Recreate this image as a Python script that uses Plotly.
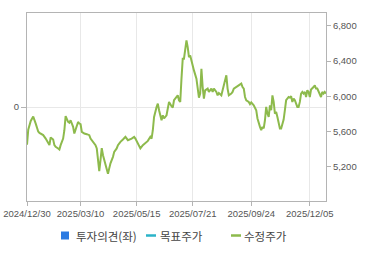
import plotly.graph_objects as go

# ---- data ----
tick_labels = ["2024/12/30", "2025/03/10", "2025/05/15", "2025/07/21", "2025/09/24", "2025/12/05"]
tick_days = [0, 43, 88, 133, 180, 227]

price_days = [0, 1, 3, 5, 7, 9, 10, 13, 15, 17, 18, 19, 21, 22, 23, 25, 26, 27, 29, 30,
              31, 33, 34, 35, 37, 38, 39, 41, 42, 43, 44, 46, 48, 50, 51, 53, 55, 56, 57, 58,
              59, 60, 61, 63, 64, 65, 66, 67, 69, 70, 72, 73, 75, 76, 77, 79, 80, 81, 84, 86,
              87, 89, 91, 93, 95, 97, 99, 100, 101, 102, 104, 105, 106, 108, 109, 110, 112, 113, 114, 116,
              117, 118, 120, 121, 122, 123, 124, 125, 126, 128, 129, 130, 131, 133, 134, 136, 137, 138, 139, 140,
              141, 142, 143, 145, 146, 148, 149, 150, 152, 153, 154, 156, 157, 158, 160, 161, 162, 164, 165, 166,
              168, 169, 170, 172, 173, 174, 175, 176, 178, 179, 180, 182, 184, 185, 187, 188, 189, 190, 191, 192,
              193, 194, 195, 196, 197, 198, 199, 200, 201, 202, 203, 204, 205, 206, 207, 208, 210, 211, 212, 213,
              214, 215, 216, 217, 218, 219, 220, 221, 222, 223, 224, 225, 226, 227, 228, 229, 230, 231, 232, 233,
              234, 235, 236, 237, 238, 239, 240]
price_values = [5450, 5620, 5720, 5770, 5690, 5600, 5585, 5560, 5520, 5465, 5446, 5533, 5510, 5446, 5426, 5408, 5397, 5446, 5520, 5615,
                5774, 5709, 5700, 5728, 5653, 5578, 5615, 5709, 5691, 5683, 5596, 5578, 5570, 5559, 5520, 5483, 5446, 5408, 5295, 5151,
                5276, 5412, 5332, 5219, 5163, 5120, 5182, 5239, 5313, 5370, 5408, 5446, 5483, 5502, 5510, 5540, 5520, 5502, 5520, 5540,
                5520, 5465, 5408, 5446, 5465, 5494, 5540, 5520, 5615, 5766, 5879, 5917, 5842, 5728, 5785, 5748, 5785, 5861, 5936, 5887,
                5872, 5955, 5985, 6011, 5955, 5936, 6200, 6427, 6427, 6634, 6558, 6445, 6464, 6370, 6294, 6200, 6068, 5985, 6031, 6313,
                6105, 5974, 6068, 6087, 6049, 6087, 6049, 6087, 6049, 6011, 6037, 6011, 6068, 6124, 6238, 6087, 6011, 6031, 6049, 6087,
                6105, 6113, 6124, 6144, 6105, 6087, 5992, 5955, 5936, 5910, 5930, 5898, 5842, 5748, 5653, 5615, 5653, 5635, 5728, 5879,
                5804, 5766, 5898, 5842, 6011, 5936, 5804, 5822, 5766, 5709, 5635, 5635, 5691, 5736, 5842, 5955, 5992, 5985, 6000, 5936,
                5974, 5955, 5917, 5879, 5879, 5936, 6031, 6049, 6031, 6049, 5992, 6068, 6049, 5992, 6076, 6087, 6105, 6124, 6087, 6087,
                6049, 6031, 5992, 6049, 6031, 6049, 6031]

price_ticks = [5200, 5600, 6000, 6400, 6800]
price_range = [4812, 6945]

legend_names = ["투자의견(좌)", "목표주가", "수정주가"]
legend_colors = ["#2a7ae2", "#2bb3c8", "#8dba4c"]

# ---- figure ----
W, H = 370, 255
L, R, T, B = 27, 44, 13, 54
font_fam = "Liberation Sans, Arial, Noto Sans CJK KR, sans-serif"
axis_col = "#b4b4b4"
grid_col = "#e8e8e8"
txt_col = "#555555"

fig = go.Figure()
fig.add_trace(go.Bar(x=[], y=[], name=legend_names[0], marker_color=legend_colors[0],
                     yaxis="y", showlegend=False))
fig.add_trace(go.Scatter(x=[], y=[], name=legend_names[1], mode="lines",
                         line=dict(color=legend_colors[1], width=2), yaxis="y2", showlegend=False))
fig.add_trace(go.Scatter(x=price_days, y=price_values, name=legend_names[2], mode="lines",
                         line=dict(color=legend_colors[2], width=2), yaxis="y2",
                         showlegend=False, hoverinfo="skip"))

fig.update_layout(
    width=W, height=H,
    margin=dict(l=L, r=R, t=T, b=B, pad=0, autoexpand=False),
    paper_bgcolor="white", plot_bgcolor="white",
    font=dict(family=font_fam, size=10, color=txt_col),
    showlegend=False,
    xaxis=dict(range=[0, 240], tickmode="array", tickvals=tick_days, ticktext=tick_labels,
               showgrid=True, gridcolor=grid_col, gridwidth=1, automargin=False,
               showline=True, linecolor=axis_col, linewidth=1, mirror=True,
               ticks="outside", ticklen=4, tickcolor=axis_col,
               tickfont=dict(size=9.5, color=txt_col), zeroline=False),
    yaxis=dict(range=[-1, 1], tickmode="array", tickvals=[0], ticktext=["0"],
               showgrid=True, gridcolor=grid_col, zeroline=False, automargin=False,
               showline=True, linecolor=axis_col, linewidth=1, mirror=True,
               ticks="outside", ticklen=5, tickcolor=axis_col,
               tickfont=dict(size=9.5, color=txt_col)),
    yaxis2=dict(range=price_range, overlaying="y", side="right", automargin=False,
                tickmode="array", tickvals=price_ticks, tickformat=",",
                showgrid=False, zeroline=False, showline=True, linecolor=axis_col,
                ticks="outside", ticklen=4, tickcolor=axis_col,
                tickfont=dict(size=9.5, color=txt_col)),
)

# ---- manual legend (pixel positions converted to paper coords) ----
pw, ph = W - L - R, H - T - B
def px(x):
    return (x - L) / pw
def py(y):
    return (H - B - y) / ph

ly = 235.5
fig.add_shape(type="rect", xref="paper", yref="paper",
              x0=px(61), x1=px(69), y0=py(239.5), y1=py(231.5),
              fillcolor=legend_colors[0], line=dict(width=0))
fig.add_shape(type="line", xref="paper", yref="paper",
              x0=px(146), x1=px(156), y0=py(ly), y1=py(ly),
              line=dict(color=legend_colors[1], width=2.5))
fig.add_shape(type="line", xref="paper", yref="paper",
              x0=px(231), x1=px(241), y0=py(ly), y1=py(ly),
              line=dict(color=legend_colors[2], width=2.5))
for name, xpos in zip(legend_names, [75, 159, 243]):
    fig.add_annotation(text=name, xref="paper", yref="paper", x=px(xpos), y=py(ly),
                       xanchor="left", yanchor="middle", showarrow=False, borderpad=0,
                       font=dict(family="Noto Sans CJK KR, sans-serif", size=11.5, color="#444444"))

fig.write_html("out.html")
